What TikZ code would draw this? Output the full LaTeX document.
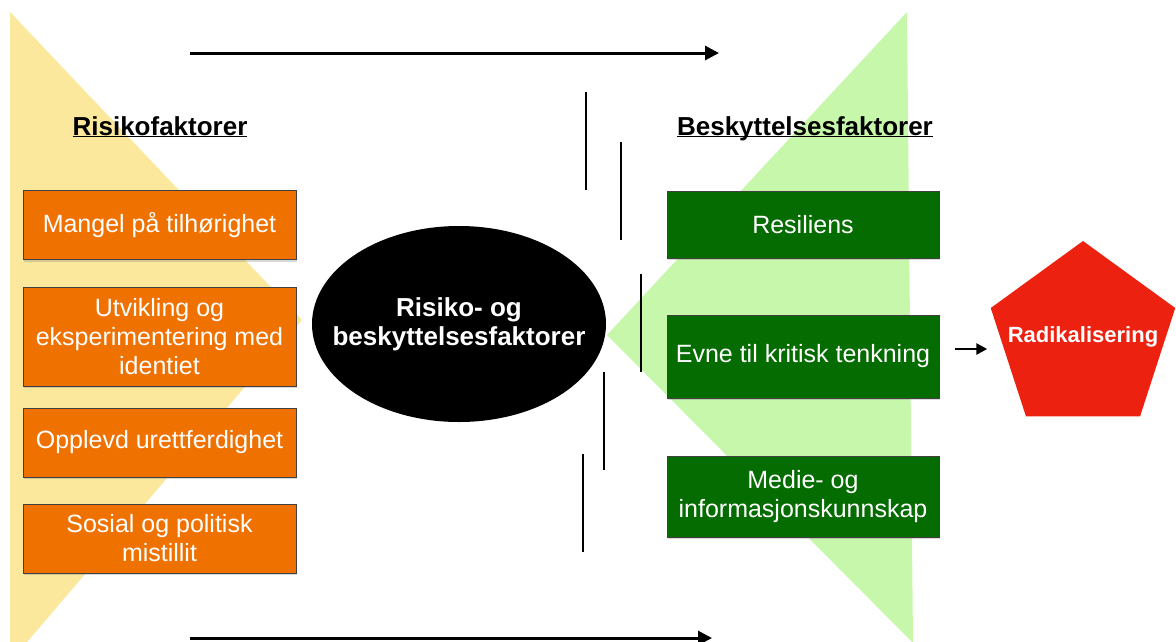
\documentclass[tikz,border=0pt]{standalone}
\usepackage{fontspec}
\setmainfont{Liberation Sans}
\usetikzlibrary{shapes.geometric,arrows.meta,shadows}
\definecolor{riskyellow}{HTML}{FBE89C}
\definecolor{protgreen}{HTML}{C6F7AA}
\definecolor{riskorange}{HTML}{EF7100}
\definecolor{protdark}{HTML}{046C00}
\definecolor{radred}{HTML}{EC2110}
\begin{document}
\begin{tikzpicture}
  [x=1pt,y=-1pt,
   box/.style={rectangle,draw=black!75,line width=.8pt,text=white,align=center,
     minimum height=69pt,inner sep=2pt,font=\fontsize{25}{29}\selectfont,
     drop shadow={shadow xshift=1pt,shadow yshift=-2pt,opacity=.3}},
   risk/.style={box,fill=riskorange,minimum width=273pt},
   prot/.style={box,fill=protdark,minimum width=272pt},
   head/.style={anchor=base,font=\fontsize{26}{29}\selectfont\bfseries},
   bold/.style={text=white,align=center,font=\fontsize{26}{29}\selectfont\bfseries},
   bar/.style={line width=2pt},
   arr/.style={line width=3pt,-{Triangle[length=14pt,width=14pt]}}]
  \useasboundingbox (0,0) rectangle (1176,641);
  \fill[riskyellow] (10,12) -- (302,320) -- (10,662) -- cycle;
  \fill[protgreen] (907,12) -- (607,335) -- (913,643) -- cycle;

  \coordinate (t1) at (190,53);
  \coordinate (t2) at (719,53);
  \coordinate (u1) at (190,638);
  \coordinate (u2) at (712,638);
  \draw[arr] (t1) -- (t2);
  \draw[arr] (u1) -- (u2);

  \foreach \x/\ya/\yb in {586/92/190, 621/142/240, 641/274/372, 604/372/470, 583/454/552}
    \draw[bar] (\x,\ya) -- (\x,\yb);

  \node[head] (rh) at (160,135) {\underline{\smash{Risikofaktorer}}};
  \node[head] (bh) at (805,135) {\underline{\smash{Beskyttelsesfaktorer}}};

  \node[risk] (r1) at (159.5,225) {Mangel på tilhørighet};
  \node[risk,minimum height=99pt] (r2) at (159.5,336.5) {Utvikling og\\eksperimentering med\\identiet};
  \node[risk] (r3) at (159.5,442.5) {Opplevd urettferdighet};
  \node[risk] (r4) at (159.5,538.5) {Sosial og politisk\\mistillit};

  \node[ellipse,fill=black,minimum width=294pt,minimum height=196pt,inner sep=0pt] (core) at (459,324) {};
  \node[bold] (coretx) at (core) {Risiko- og\\beskyttelsesfaktorer};

  \node[prot,minimum height=67pt] (b1) at (803,224.5) {Resiliens};
  \node[prot,minimum height=83pt] (b2) at (803,356.5) {Evne til kritisk tenkning};
  \node[prot,minimum height=81pt] (b3) at (803,496.5) {Medie- og\\informasjonskunnskap};

  \node[regular polygon,regular polygon sides=5,fill=radred,minimum size=194pt,inner sep=0pt] (rad) at (1083,338) {};
  \node[bold,font=\fontsize{22}{26}\selectfont\bfseries] (radtx) at (1083,337) {Radikalisering};

  \coordinate (ay) at (0,349);
  \draw[line width=2.5pt,-{Triangle[length=11pt,width=11pt]},shorten <=16pt,shorten >=13pt]
    (b2.east |- ay) -- (rad.west |- ay);
\end{tikzpicture}
\end{document}
